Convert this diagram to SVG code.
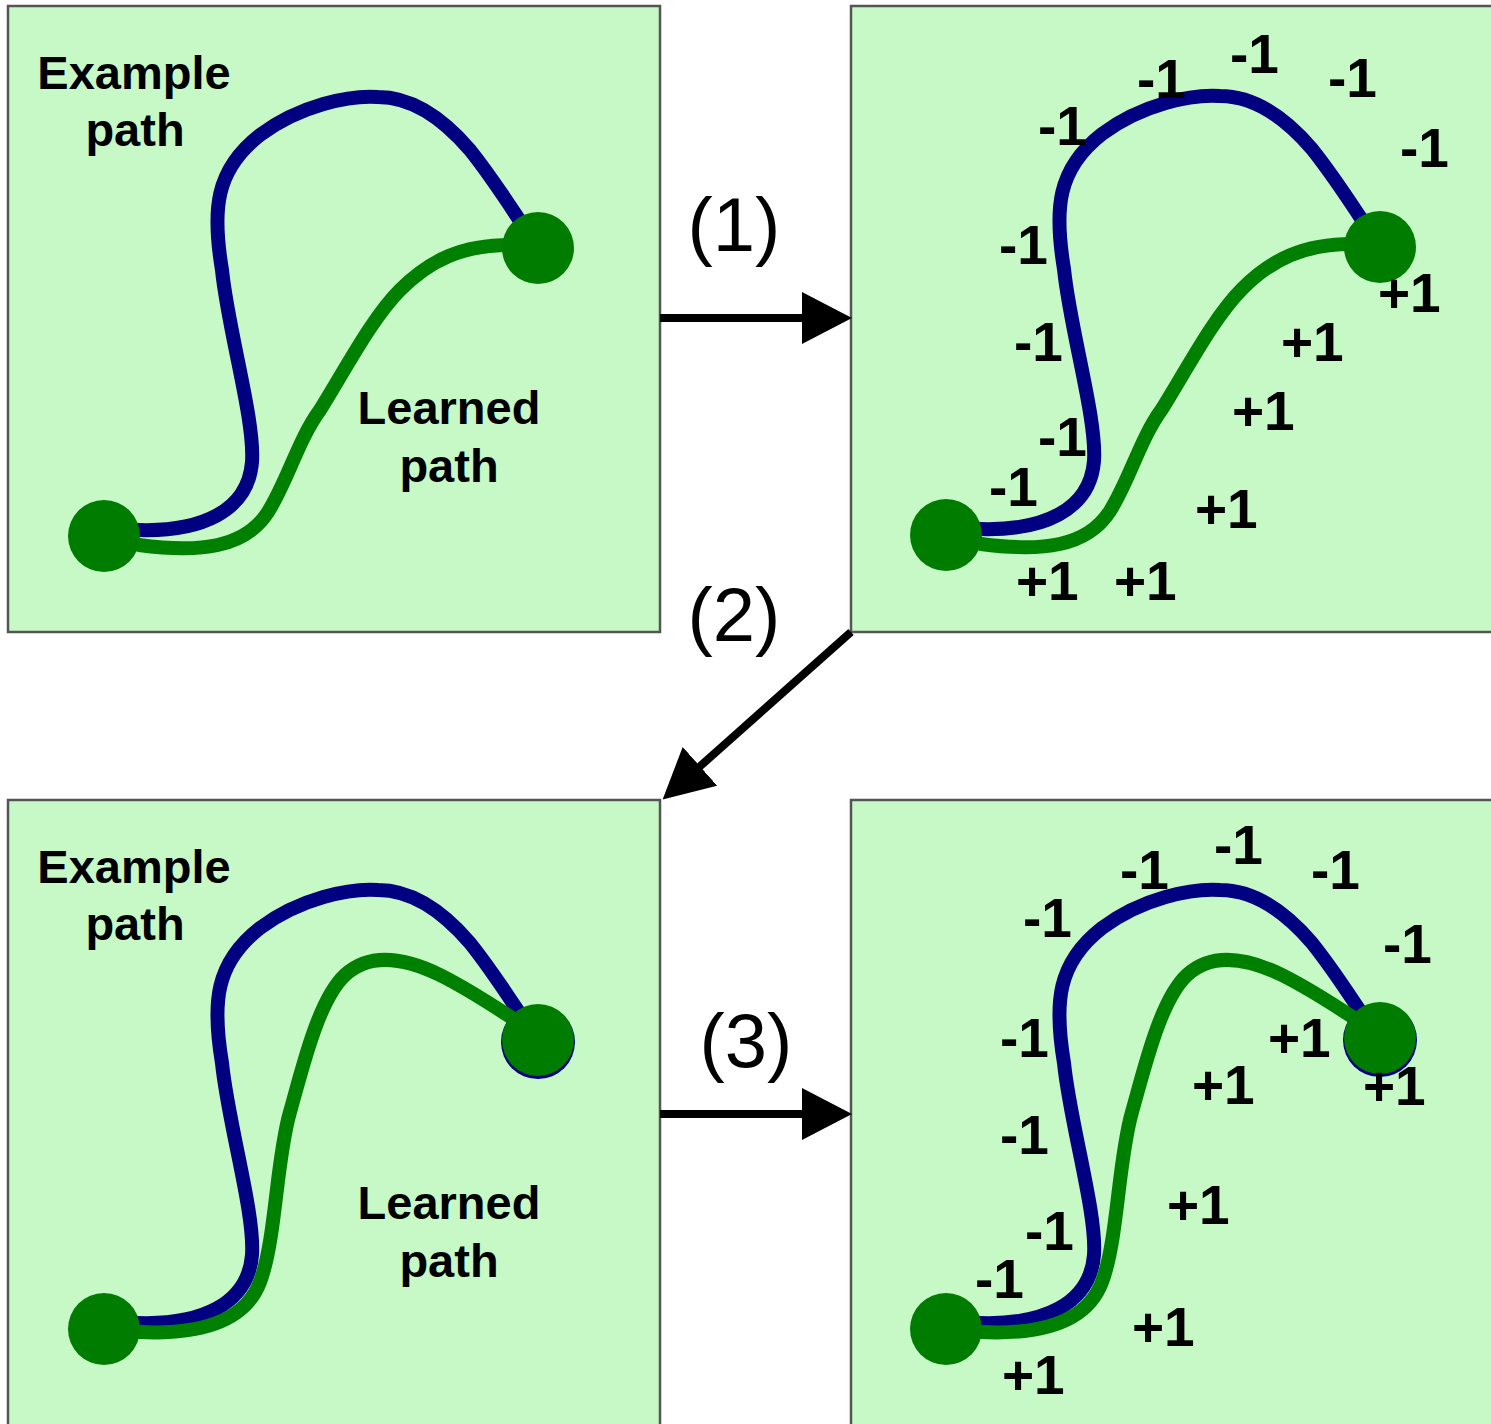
<svg xmlns="http://www.w3.org/2000/svg" width="1491" height="1424" viewBox="0 0 1491 1424">
<defs>
<style>
.panel{fill:#c7f9c7;stroke:#555;stroke-width:2.5}
.blue{fill:none;stroke:#000080;stroke-width:14;stroke-linecap:round}
.green{fill:none;stroke:#008000;stroke-width:14;stroke-linecap:round}
.node{fill:#007c00}
.halo{fill:#000080}
.lbl{font-family:"Liberation Sans",Arial,sans-serif;font-weight:bold;font-size:47px;fill:#000;text-anchor:middle}
.num{font-family:"Liberation Sans",Arial,sans-serif;font-weight:bold;font-size:55px;fill:#000}
.step{font-family:"Liberation Sans",Arial,sans-serif;font-size:76px;fill:#000;text-anchor:middle}
.arrow{stroke:#000;stroke-width:8;fill:none}
</style>
<marker id="head" markerUnits="userSpaceOnUse" markerWidth="50" markerHeight="52" refX="4" refY="26" orient="auto" viewBox="0 0 50 52">
<path d="M0,0 L50,26 L0,52 z" fill="#000"/>
</marker>
<path id="bluePath" d="M138,530 C200,532 248,512 252,462 C255,420 228,330 222,270 C212,210 215,170 260,135 C300,105 350,95 378,97 C410,97 440,115 470,150 C490,175 505,198 522,224"/>
<path id="green1" d="M139,545 C200,553 245,548 268,512 C288,480 298,440 320,410 C345,370 372,318 400,290 C430,260 462,245 510,245"/>
<path id="green2" d="M139,1332 C200,1335 245,1322 260,1282 C276,1240 276,1160 290,1112 C302,1070 318,1000 345,975 C370,952 405,958 440,975 C470,990 492,1005 515,1020"/>
</defs>

<g id="panel1">
<rect class="panel" x="8" y="6" width="652" height="626"/>
<use href="#bluePath" class="blue"/>
<use href="#green1" class="green"/>
<circle class="node" cx="104" cy="536" r="36"/>
<circle class="node" cx="538" cy="248" r="36"/>
<text class="lbl" x="134" y="89">Example</text>
<text class="lbl" x="135" y="146">path</text>
<text class="lbl" x="449" y="424">Learned</text>
<text class="lbl" x="449" y="482">path</text>
</g>

<g id="panel2">
<rect class="panel" x="851" y="6" width="660" height="626"/>
<g transform="translate(842,-1)">
<use href="#bluePath" class="blue"/>
<use href="#green1" class="green"/>
<circle class="node" cx="104" cy="536" r="36"/>
<circle class="node" cx="538" cy="248" r="36"/>
</g>
<text class="num" x="1137" y="98">-1</text>
<text class="num" x="1230" y="73">-1</text>
<text class="num" x="1328" y="97">-1</text>
<text class="num" x="1038" y="145">-1</text>
<text class="num" x="1400" y="167">-1</text>
<text class="num" x="999" y="264">-1</text>
<text class="num" x="1014" y="361">-1</text>
<text class="num" x="1038" y="456">-1</text>
<text class="num" x="989" y="506">-1</text>
<text class="num" x="1378" y="312">+1</text>
<text class="num" x="1281" y="361">+1</text>
<text class="num" x="1232" y="430">+1</text>
<text class="num" x="1195" y="528">+1</text>
<text class="num" x="1016" y="600">+1</text>
<text class="num" x="1114" y="600">+1</text>
</g>

<g id="panel3">
<rect class="panel" x="8" y="800" width="652" height="640"/>
<g transform="translate(0,793)">
<use href="#bluePath" class="blue"/>
</g>
<use href="#green2" class="green"/>
<circle class="node" cx="104" cy="1329" r="36"/>
<circle class="halo" cx="538" cy="1042" r="37"/>
<circle class="node" cx="538" cy="1040" r="36"/>
<text class="lbl" x="134" y="883">Example</text>
<text class="lbl" x="135" y="940">path</text>
<text class="lbl" x="449" y="1219">Learned</text>
<text class="lbl" x="449" y="1277">path</text>
</g>

<g id="panel4">
<rect class="panel" x="851" y="800" width="660" height="640"/>
<g transform="translate(842,0)">
<g transform="translate(0,793)">
<use href="#bluePath" class="blue"/>
</g>
<use href="#green2" class="green"/>
<circle class="node" cx="104" cy="1329" r="36"/>
<circle class="halo" cx="538" cy="1040" r="37"/>
<circle class="node" cx="538" cy="1038" r="36"/>
</g>
<text class="num" x="1120" y="889">-1</text>
<text class="num" x="1214" y="864">-1</text>
<text class="num" x="1311" y="889">-1</text>
<text class="num" x="1023" y="937">-1</text>
<text class="num" x="1383" y="963">-1</text>
<text class="num" x="1000" y="1057">-1</text>
<text class="num" x="1000" y="1154">-1</text>
<text class="num" x="1025" y="1250">-1</text>
<text class="num" x="975" y="1298">-1</text>
<text class="num" x="1268" y="1057">+1</text>
<text class="num" x="1192" y="1104">+1</text>
<text class="num" x="1363" y="1105">+1</text>
<text class="num" x="1167" y="1224">+1</text>
<text class="num" x="1132" y="1346">+1</text>
<text class="num" x="1002" y="1394">+1</text>
</g>

<g id="connectors">
<line class="arrow" x1="660" y1="318" x2="806" y2="318" marker-end="url(#head)"/>
<line class="arrow" x1="851" y1="632" x2="697" y2="769" marker-end="url(#head)"/>
<line class="arrow" x1="660" y1="1114" x2="806" y2="1114" marker-end="url(#head)"/>
<text class="step" x="734" y="251">(1)</text>
<text class="step" x="734" y="641">(2)</text>
<text class="step" x="746" y="1067">(3)</text>
</g>
</svg>
